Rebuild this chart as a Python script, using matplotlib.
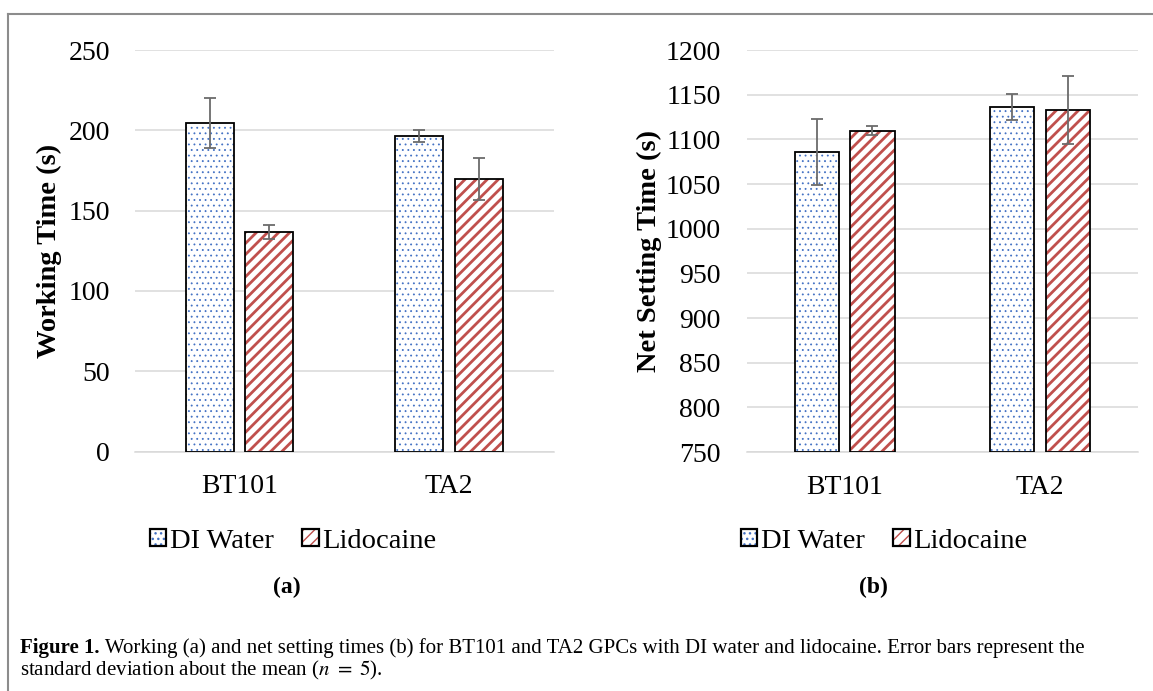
import matplotlib
matplotlib.use("Agg")
import matplotlib.pyplot as plt
import numpy as np
from matplotlib.lines import Line2D
from matplotlib.patches import Rectangle
from matplotlib.text import Annotation

# ---------------- data ----------------
categories = ["BT101", "TA2"]
series_names = ["DI Water", "Lidocaine"]

working_di = [204.5, 196.5]
working_di_sd = [15.5, 3.7]
working_lido = [136.5, 169.7]
working_lido_sd = [4.4, 13.3]

setting_di = [1086.0, 1136.5]
setting_di_sd = [36.6, 14.7]
setting_lido = [1109.5, 1132.5]
setting_lido_sd = [5.0, 38.0]

working_ticks = [0, 50, 100, 150, 200, 250]
setting_ticks = [750, 800, 850, 900, 950, 1000, 1050, 1100, 1150, 1200]

# ---------------- style ----------------
plt.rcParams["font.family"] = ["Liberation Serif", "DejaVu Serif"]
plt.rcParams["mathtext.fontset"] = "stix"

W, H = 1153, 691
fig = plt.figure(figsize=(W / 100, H / 100), dpi=100)
fig.patch.set_facecolor("white")

BLUE = "#4472c4"
RED = "#c0504d"
GRID = "#d9d9d9"
ERR = "#6b6b6b"
DOT_HATCH, DOT_LW = "...", 0.6
STRIPE_HATCH, STRIPE_LW = "///", 2.0


def px_axes(x0, y0, x1, y1):
    return fig.add_axes([x0 / W, 1 - y1 / H, (x1 - x0) / W, (y1 - y0) / H])


def hatched_bar(ax, x, h, color, hatch, hlw, bottom=0):
    bars = ax.bar(x, h, width=0.227, bottom=bottom, color="white",
                  edgecolor=color, hatch=hatch, linewidth=0, zorder=2)
    for b in bars:
        if hasattr(b, "set_hatch_linewidth"):
            b.set_hatch_linewidth(hlw)
    ax.bar(x, h, width=0.227, bottom=bottom, facecolor="none",
           edgecolor="black", linewidth=1.3, zorder=3)
    return bars


def panel(ax, di, di_sd, lido, lido_sd, ylim, ticks, ylabel, label_x, ticklabel_pad):
    x = np.arange(len(categories))
    off = 0.142
    bottom = ylim[0]
    hatched_bar(ax, x - off, np.array(di) - bottom, BLUE, DOT_HATCH, DOT_LW, bottom=bottom)
    hatched_bar(ax, x + off, np.array(lido) - bottom, RED, STRIPE_HATCH, STRIPE_LW, bottom=bottom)
    ax.errorbar(x - off, di, yerr=di_sd, fmt="none", ecolor=ERR,
                elinewidth=1.3, capsize=4.3, capthick=1.3, zorder=5)
    ax.errorbar(x + off, lido, yerr=lido_sd, fmt="none", ecolor=ERR,
                elinewidth=1.3, capsize=4.3, capthick=1.3, zorder=5)
    ax.set_xlim(-0.5, len(categories) - 0.5)
    ax.set_ylim(*ylim)
    ax.set_yticks(ticks)
    ax.set_xticks(x)
    ax.set_xticklabels(categories)
    ax.yaxis.grid(True, color=GRID, linewidth=1.1)
    ax.set_axisbelow(True)
    for s in ["left", "right", "top"]:
        ax.spines[s].set_visible(False)
    ax.spines["bottom"].set_color(GRID)
    ax.spines["bottom"].set_linewidth(1.1)
    ax.tick_params(axis="both", length=0, labelsize=20)
    ax.tick_params(axis="y", pad=ticklabel_pad)
    ax.tick_params(axis="x", pad=16.5)
    ax.set_ylabel(ylabel, fontsize=20.5, fontweight="bold")
    ax.yaxis.set_label_coords(label_x, 0.5)


ax1 = px_axes(134.75, 50, 553.75, 451.5)
panel(ax1, working_di, working_di_sd, working_lido, working_lido_sd,
      (0, 250), working_ticks, "Working Time (s)", -0.1737, 18)

ax2 = px_axes(747, 50, 1137.7, 452)
panel(ax2, setting_di, setting_di_sd, setting_lido, setting_lido_sd,
      (750, 1200), setting_ticks, "Net Setting Time (s)", -0.2176, 19)


# ---------------- legends ----------------
def legend_handles():
    hs = []
    for color, hatch, hlw in [(BLUE, DOT_HATCH, DOT_LW), (RED, STRIPE_HATCH, STRIPE_LW)]:
        p = Rectangle((0, 0), 1, 1, facecolor="white", edgecolor=color,
                      hatch=hatch, linewidth=0)
        if hasattr(p, "set_hatch_linewidth"):
            p.set_hatch_linewidth(hlw)
        e = Rectangle((0, 0), 1, 1, facecolor="none", edgecolor="black", linewidth=1.6)
        hs.append((p, e))
    return hs


for cx in (293, 884):
    fig.legend(legend_handles(), series_names, loc="center",
               bbox_to_anchor=(cx / W, 1 - 541 / H), ncol=2, frameon=False,
               fontsize=20.5, handlelength=0.58, handleheight=0.58,
               handletextpad=0.12, columnspacing=1.0, borderpad=0)

fig.text(287 / W, 1 - 587 / H, "(a)", ha="center", va="center",
         fontsize=17, fontweight="bold")
fig.text(873 / W, 1 - 587 / H, "(b)", ha="center", va="center",
         fontsize=17, fontweight="bold")

# ---------------- caption ----------------
CAP = 15
t1 = fig.text(20 / W, 1 - 653 / H, "Figure 1.", ha="left", va="baseline",
              fontsize=CAP, fontweight="bold")
fig.add_artist(Annotation(" Working (a) and net setting times (b) for BT101 and TA2 GPCs with DI water "
                          "and lidocaine. Error bars represent the",
                          xy=(1, 0), xycoords=t1, xytext=(0, 0), textcoords="offset points",
                          fontsize=CAP, ha="left", va="bottom"))
fig.text(20 / W, 1 - 675 / H, r"standard deviation about the mean ($n\ =\ 5$).",
         ha="left", va="baseline", fontsize=CAP)

# ---------------- outer frame ----------------
fig.add_artist(Line2D([8 / W, 8 / W], [0, 1 - 14 / H], transform=fig.transFigure,
                      color="#8c8c8c", linewidth=1.5))
fig.add_artist(Line2D([8 / W, 1], [1 - 14 / H, 1 - 14 / H], transform=fig.transFigure,
                      color="#8c8c8c", linewidth=1.5))

fig.savefig("out.png", dpi=100, facecolor="white")
